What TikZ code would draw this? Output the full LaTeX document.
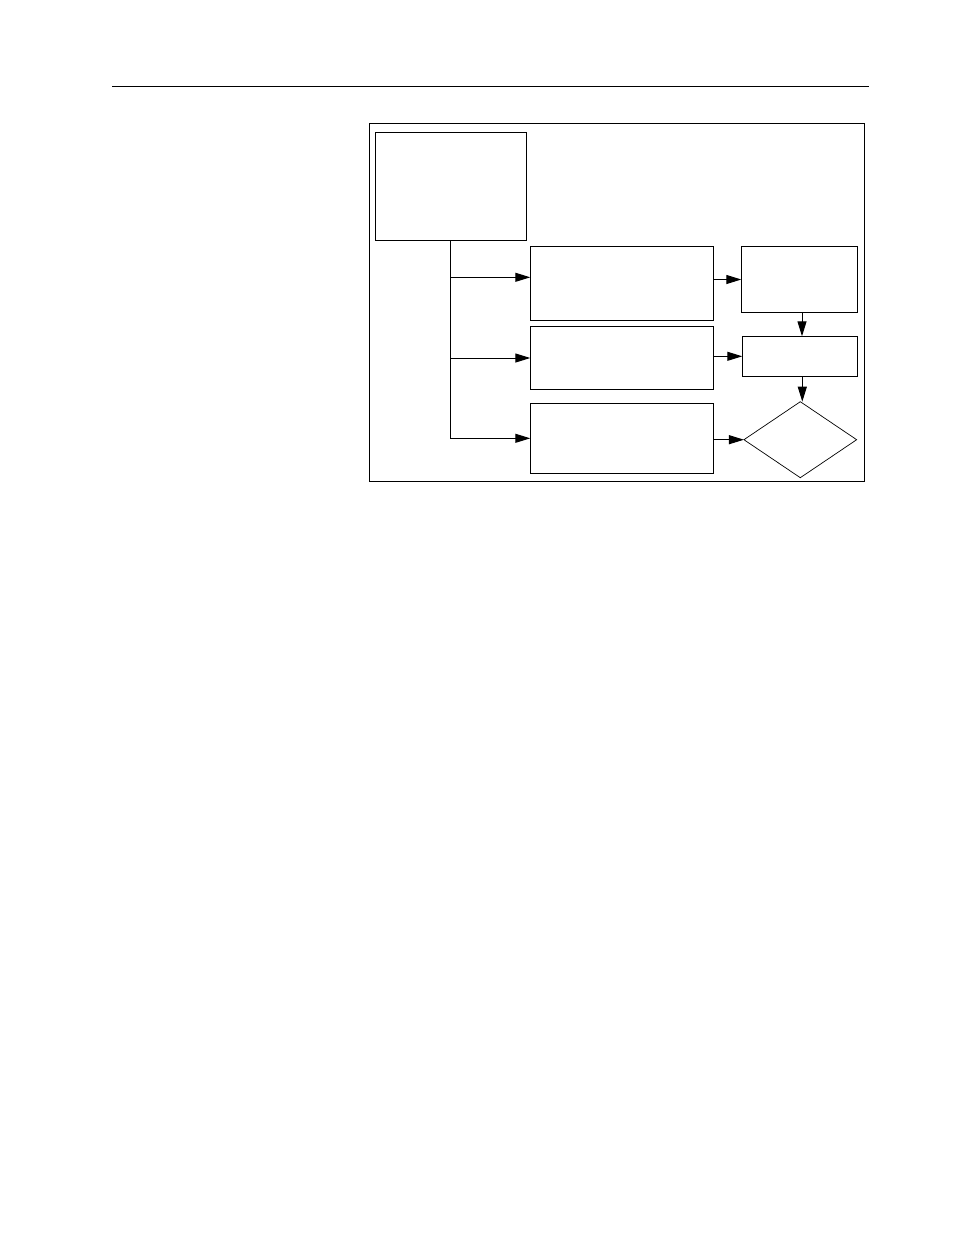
\documentclass[tikz,border=0pt]{standalone}
\usepackage{tikz}
\usetikzlibrary{arrows.meta}
\usetikzlibrary{shapes.geometric}
\usetikzlibrary{positioning}

\begin{document}
\begin{tikzpicture}[x=1pt,y=-1pt]
        \tikzstyle{stepbox}=[draw,rectangle,line width=1pt,inner sep=0pt,outer sep=0pt]
        \tikzstyle{decide}=[draw,diamond,line width=0.7pt,inner sep=0pt,outer sep=0pt]
        \tikzstyle{flow}=[line width=1pt,-{Triangle[length=15pt,width=9pt]}]
        \useasboundingbox (0,0) rectangle (954,1235);
        % page rule and frame
        \draw[line width=1.5pt] (112,86.3) -- (869,86.3);
        \draw[line width=1pt] (369.3,123.3) rectangle (864.3,481);
        % boxes
        \node[stepbox,minimum width=150.6pt,minimum height=108pt] (start) at (451,186.3) {};
        \node[stepbox,minimum width=183pt,minimum height=73.6pt] (taskA) at (621.8,283.5) {};
        \node[stepbox,minimum width=183pt,minimum height=62.6pt] (taskB) at (621.8,358) {};
        \node[stepbox,minimum width=183pt,minimum height=70pt] (taskC) at (621.8,438.3) {};
        \node[stepbox,minimum width=116.4pt,minimum height=65.6pt] (checkA) at (799.5,279.5) {};
        \node[stepbox,minimum width=115.4pt,minimum height=40pt] (checkB) at (800,356.3) {};
        \node[decide,minimum width=112.7pt,minimum height=76pt] (choice) at (800.3,439.7) {};
        \coordinate (trunk) at ([xshift=-0.8pt]start.south);
        \coordinate (inA) at ([yshift=6.2pt]taskA.west);
        \coordinate (downA) at ([xshift=2.5pt]checkA.south);
        \coordinate (downB) at ([xshift=2.3pt]checkB.south);
        % trunk and branches
        \draw[line width=1pt] (trunk) -- (trunk |- taskC.west);
        \draw[flow] (trunk |- inA) -- (inA);
        \draw[flow] (trunk |- taskB.west) -- (taskB.west);
        \draw[flow] (trunk |- taskC.west) -- (taskC.west);
        % right column
        \draw[flow] (taskA.east |- checkA.west) -- (checkA.west);
        \draw[flow] (taskB.east |- checkB.west) -- (checkB.west);
        \draw[flow] (taskC.east |- choice.west) -- (choice.west);
        \draw[flow] (downA) -- (downA |- checkB.north);
        \draw[flow] (downB) -- (downB |- choice.north);
\end{tikzpicture}
\end{document}
